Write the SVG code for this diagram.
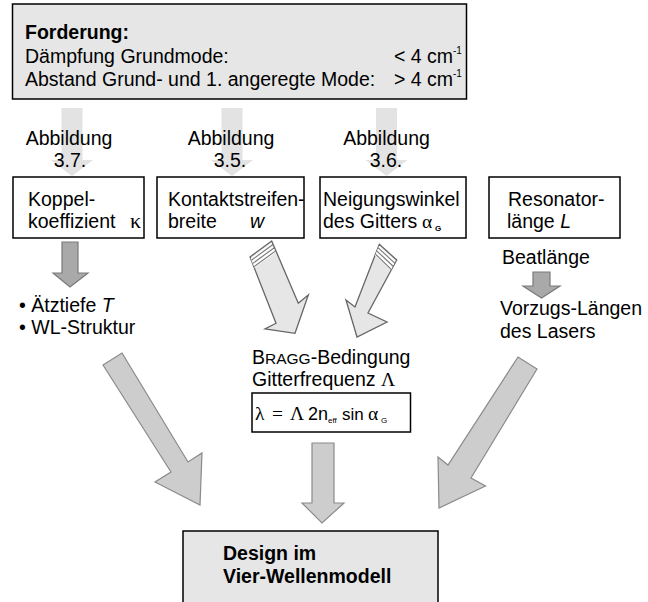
<svg xmlns="http://www.w3.org/2000/svg" width="648" height="602" viewBox="0 0 648 602">
<style>
text{font-family:"Liberation Sans",Arial,sans-serif;font-size:19.5px;fill:#000}
.b{font-weight:bold}
.s{font-family:"Liberation Serif","Times New Roman",serif}
.i{font-style:italic}
.box{fill:#fff;stroke:#000;stroke-width:1.5}
.gbox{fill:#e6e6e6;stroke:#000;stroke-width:1.5}
.la{fill:#e3e3e3;stroke:none}
.da{fill:#a9a9a9;stroke:#7a7a7a;stroke-width:1.2}
.ba{fill:#cdcdcd;stroke:#8a8a8a;stroke-width:1.2}
.sa{fill:#e6e6e6;stroke:#666;stroke-width:1.3}
.st{fill:#fff;stroke:none}
.sl{stroke:#777;stroke-width:1.1}
.sub{font-size:8px}
</style>
<g id="connectors">
  <polygon class="la" points="61.5,108 82.5,108 82.5,160 93,160 72,176 51,160 61.5,160"/>
  <polygon class="la" points="221.5,108 242.5,108 242.5,160 253,160 232,176 211,160 221.5,160"/>
  <polygon class="la" points="376,108 397,108 397,160 407.5,160 386.5,176 365.5,160 376,160"/>
  <polygon class="da" points="62,242 78,242 78,273 88,273 70,287 53,273 62,273"/>
  <polygon class="da" points="533,272 550,272 550,286 560,286 541.5,298 523,286 533,286"/>
  <polygon class="sa" points="250,257 271.7,241 298.3,303.3 308.3,295 295,333.3 265,329 276,323.3"/>
  <polygon class="st" points="250.6,258.4 271.1,243 275.6,252.6 254.6,267.8"/>
  <line class="sl" x1="251.4" y1="260.2" x2="273" y2="244.5"/>
  <line class="sl" x1="252.8" y1="263.4" x2="274.3" y2="247.7"/>
  <line class="sl" x1="254.2" y1="266.6" x2="275.6" y2="250.9"/>
  <polygon class="sa" points="379.3,244.3 396.7,260 368,313 387,322 357,337 346,300 355,307"/>
  <polygon class="st" points="379,245.8 395.5,260.7 391,270 375,255.5"/>
  <line class="sl" x1="378" y1="247.6" x2="395" y2="263.3"/>
  <line class="sl" x1="376.7" y1="250.8" x2="393.4" y2="266.5"/>
  <line class="sl" x1="375.4" y1="254.1" x2="391.8" y2="269.8"/>
  <polygon class="ba" points="103,365 122,353 188,462 202,453 200,505 155,482 171,472"/>
  <polygon class="ba" points="537,369 518,357 448,465 438,457 439,508 485.5,486 471,478"/>
  <polygon class="ba" points="312,443 334,443 334,503 344,503 322,523 302,503 312,503"/>
</g>
<g id="forderung">
  <rect class="gbox" x="12.5" y="4" width="454" height="95"/>
  <text class="b" x="25" y="39">Forderung:</text>
  <text x="25" y="63">Dämpfung Grundmode:</text>
  <text x="394" y="63">&lt; 4 cm</text>
  <text x="453" y="54" style="font-size:10px">-1</text>
  <text x="25" y="86">Abstand Grund- und 1. angeregte Mode:</text>
  <text x="394" y="86">&gt; 4 cm</text>
  <text x="453" y="77" style="font-size:10px">-1</text>
</g>
<g id="abb1">
  <text x="69" y="145" text-anchor="middle">Abbildung</text>
  <text x="70" y="167" text-anchor="middle">3.7.</text>
</g>
<g id="abb2">
  <text x="231" y="145" text-anchor="middle">Abbildung</text>
  <text x="230" y="167" text-anchor="middle">3.5.</text>
</g>
<g id="abb3">
  <text x="386.5" y="145" text-anchor="middle">Abbildung</text>
  <text x="386" y="167" text-anchor="middle">3.6.</text>
</g>
<g id="koppel">
  <rect class="box" x="13" y="177" width="131" height="61"/>
  <text x="28" y="206">Koppel-</text>
  <text x="28" y="228">koeffizient</text>
  <text class="s" x="130" y="228" style="font-size:22px">κ</text>
</g>
<g id="kontakt">
  <rect class="box" x="157" y="177" width="147" height="61"/>
  <text x="168" y="206">Kontaktstreifen-</text>
  <text x="168" y="228">breite</text>
  <text class="i" x="250" y="228">w</text>
</g>
<g id="neigung">
  <rect class="box" x="320" y="177" width="146" height="61"/>
  <text x="323" y="206">Neigungswinkel</text>
  <text x="323" y="228">des Gitters</text>
  <text class="s" x="422" y="228">α</text>
  <text class="b sub" x="435" y="231">G</text>
</g>
<g id="resonator">
  <rect class="box" x="489" y="177" width="131" height="61"/>
  <text x="508" y="206">Resonator-</text>
  <text x="507" y="228">länge <tspan class="i">L</tspan></text>
</g>
<g id="aetz">
  <text x="19" y="312">• Ätztiefe <tspan class="i">T</tspan></text>
  <text x="19" y="334">• WL-Struktur</text>
</g>
<g id="beat">
  <text x="502" y="264">Beatlänge</text>
</g>
<g id="vorzug">
  <text x="500" y="315">Vorzugs-Längen</text>
  <text x="500" y="338">des Lasers</text>
</g>
<g id="bragg">
  <text x="252" y="364">B<tspan style="font-size:15.5px">RAGG</tspan>-Bedingung</text>
  <text x="252" y="386">Gitterfrequenz <tspan class="s">Λ</tspan></text>
  <rect class="box" x="252" y="393" width="158.5" height="39"/>
  <text class="s" x="255" y="420">λ</text>
  <text class="s" x="272" y="420">=</text>
  <text class="s" x="290" y="420">Λ</text>
  <text x="308" y="420" style="font-size:18px">2n</text>
  <text class="sub" x="328" y="423">eff</text>
  <text x="342" y="420" style="font-size:17px">sin</text>
  <text class="s" x="368" y="420">α</text>
  <text class="sub" x="381" y="423">G</text>
</g>
<g id="design">
  <rect class="gbox" x="183" y="531" width="255" height="80"/>
  <text class="b" x="223" y="560">Design im</text>
  <text class="b" x="223" y="583">Vier-Wellenmodell</text>
</g>
</svg>
